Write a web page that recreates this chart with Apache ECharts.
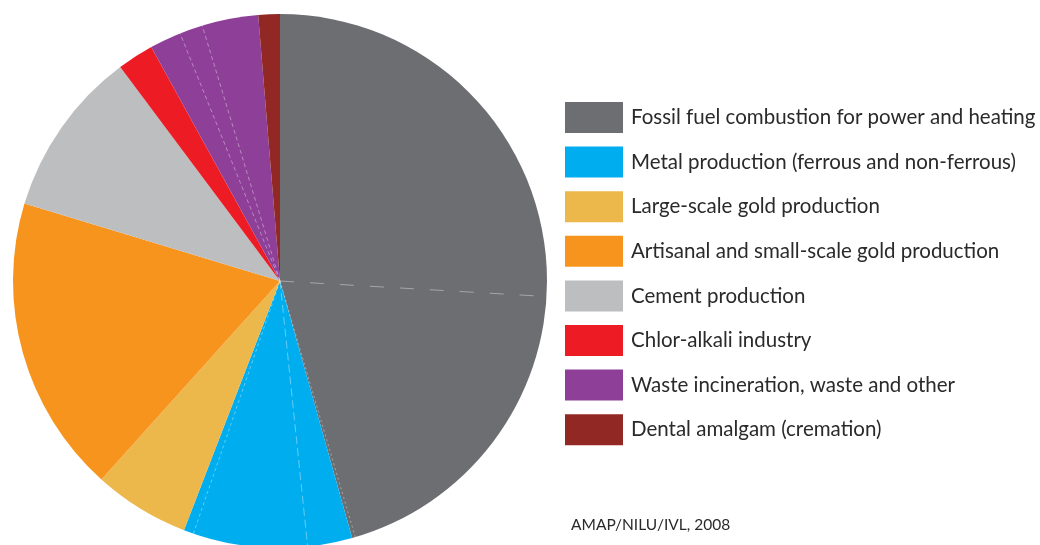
<!DOCTYPE html>
<html>
<head>
<meta charset="utf-8">
<script src="https://cdn.jsdelivr.net/npm/echarts@6/dist/echarts.min.js"></script>
<style>
  html, body { margin: 0; padding: 0; background: #ffffff; }
  #chart { width: 1040px; height: 545px; }
</style>
</head>
<body>
<div id="chart"></div>
<script>
// Global anthropogenic mercury emissions by source sector (% of total).
const categories = [
  'Fossil fuel combustion for power and heating',
  'Metal production (ferrous and non-ferrous)',
  'Large-scale gold production',
  'Artisanal and small-scale gold production',
  'Cement production',
  'Chlor-alkali industry',
  'Waste incineration, waste and other',
  'Dental amalgam (cremation)'
];

// Sub-sector shares inside each sector (dashed dividers separate them).
const shares = [
  [25.9, 19.5, 0.2],
  [2.7, 6.9, 0.6],
  [5.8],
  [18.0],
  [10.1],
  [2.2],
  [1.9, 1.4, 3.4],
  [1.3]
];

const colors = ['#6d6e71', '#00aeef', '#ecb84b', '#f7941d', '#bcbec0', '#ed1c24', '#8e3f98', '#922824'];

// Dash look for the sub-sector dividers, per sector and divider.
const dividerDash = {
  0: [[14, 16], [2, 3]],
  1: [[8, 4], [3, 3]],
  6: [[4, 3], [4, 3]]
};

const CENTER = [280, 281];
const RADIUS = 267;

const totals = shares.map(parts => parts.reduce((a, b) => a + b, 0));
const grandTotal = totals.reduce((a, b) => a + b, 0);

// Positions (in % of the full circle) of the internal sub-sector boundaries.
const dividers = [];
let running = 0;
shares.forEach((parts, ci) => {
  let acc = running;
  parts.forEach((v, pi) => {
    acc += v;
    if (pi < parts.length - 1) {
      dividers.push({ value: [1.004, acc / grandTotal * 100, ci, pi] });
    }
  });
  running += totals[ci];
});

const chart = echarts.init(document.getElementById('chart'), null, { renderer: 'canvas' });

chart.setOption({
  animation: false,
  backgroundColor: '#ffffff',
  title: {
    text: 'AMAP/NILU/IVL, 2008',
    left: 571,
    top: 517,
    padding: 0,
    textStyle: { fontFamily: 'Lato', fontSize: 15.5, fontWeight: 'normal', color: '#2a2a2a' }
  },
  legend: {
    data: categories,
    orient: 'vertical',
    left: 565,
    top: 102,
    padding: 0,
    itemWidth: 58,
    itemHeight: 31,
    itemGap: 13.6,
    icon: 'rect',
    selectedMode: false,
    textStyle: {
      fontFamily: 'Lato',
      fontSize: 20.5,
      color: '#2a2a2a',
      padding: [0, 0, 0, 3]
    }
  },
  polar: { center: CENTER, radius: [0, RADIUS] },
  angleAxis: {
    type: 'value', min: 0, max: 100, startAngle: 90, clockwise: true, show: false
  },
  radiusAxis: { type: 'value', min: 0, max: 1, show: false },
  series: [
    {
      type: 'pie',
      center: CENTER,
      radius: [0, RADIUS],
      startAngle: 90,
      clockwise: true,
      silent: true,
      label: { show: false },
      labelLine: { show: false },
      emphasis: { disabled: true },
      itemStyle: { borderWidth: 0 },
      data: categories.map((name, i) => ({
        name: name,
        value: totals[i],
        itemStyle: { color: colors[i] }
      }))
    },
    {
      type: 'custom',
      coordinateSystem: 'polar',
      silent: true,
      z: 5,
      data: dividers,
      renderItem: function (params, api) {
        const pos = api.value(1);
        const ci = api.value(2);
        const pi = api.value(3);
        const p0 = api.coord([0, pos]);
        const p1 = api.coord([api.value(0), pos]);
        const dash = (dividerDash[ci] && dividerDash[ci][pi]) || [4, 3];
        return {
          type: 'line',
          shape: { x1: p0[0], y1: p0[1], x2: p1[0], y2: p1[1] },
          style: {
            stroke: 'rgba(255,255,255,0.38)',
            lineWidth: 1,
            lineDash: dash
          }
        };
      }
    }
  ]
});
</script>
</body>
</html>
